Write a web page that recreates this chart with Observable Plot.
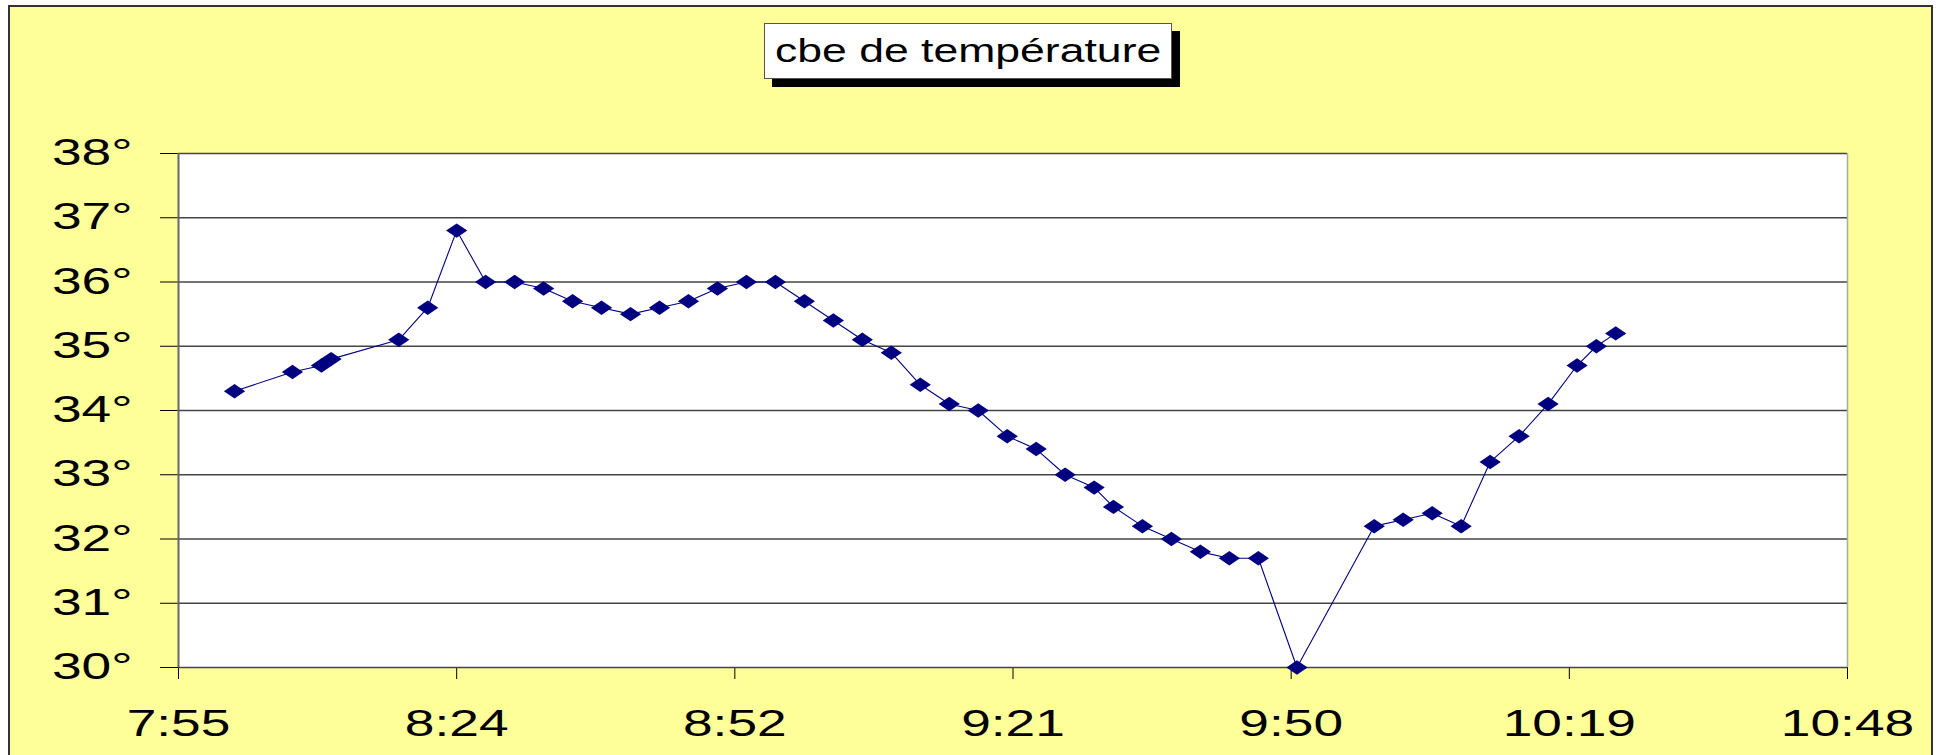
<!DOCTYPE html>
<html>
<head>
<meta charset="utf-8">
<script src="https://cdn.jsdelivr.net/npm/d3@7"></script>
<script src="https://cdn.jsdelivr.net/npm/@observablehq/plot@0.6"></script>
<style>
  html, body { margin: 0; padding: 0; background: white; }
  #wrap { position: relative; width: 1936px; height: 755px; overflow: hidden; background: white; }
  #bg { position: absolute; left: 8px; top: 5px; width: 1921px; height: 800px; background: #FFFF99; border: 2px solid #333; }
  #chart { position: absolute; left: 0; top: 0; }
  #title { position: absolute; left: 764px; top: 23px; width: 406px; height: 54px; background: white;
           border: 1px solid #555; box-shadow: 8px 8px 0 #000; text-align: center;
           font-family: "Liberation Sans", Arial, sans-serif; font-size: 33px; line-height: 54px; color: #000; }
  #title span { display: inline-block; transform: scaleX(1.35); transform-origin: center; }
</style>
</head>
<body>
<div id="wrap">
  <div id="bg"></div>
  <div id="chart"></div>
  <div id="title"><span>cbe de température</span></div>
</div>
<script>
// ---- data ----
const times = ["8:01","8:07","8:10","8:11","8:18","8:21","8:24","8:27","8:30","8:33",
               "8:36","8:39","8:42","8:45","8:48","8:51","8:54","8:57","9:00","9:03",
               "9:06","9:09","9:12","9:15","9:18","9:21","9:24","9:27","9:30","9:32",
               "9:35","9:38","9:41","9:44","9:47","9:51","9:59","10:02","10:05","10:08",
               "10:11","10:14","10:17","10:20","10:22","10:24"];
const temps = [34.3,34.6,34.7,34.8,35.1,35.6,36.8,36.0,36.0,35.9,
               35.7,35.6,35.5,35.6,35.7,35.9,36.0,36.0,35.7,35.4,
               35.1,34.9,34.4,34.1,34.0,33.6,33.4,33.0,32.8,32.5,
               32.2,32.0,31.8,31.7,31.7,30.0,32.2,32.3,32.4,32.2,
               33.2,33.6,34.1,34.7,35.0,35.2];
const yTicks = [30,31,32,33,34,35,36,37,38];
const yTickLabels = ["30°","31°","32°","33°","34°","35°","36°","37°","38°"];
// x tick positions in minutes since midnight (Excel: 0.33 .. 0.45 day, step 0.02)
const xTickValues = [475.2, 504, 532.8, 561.6, 590.4, 619.2, 648];
const xTickLabels = ["7:55","8:24","8:52","9:21","9:50","10:19","10:48"];

const toMin = s => { const [h, m] = s.split(":").map(Number); return h * 60 + m; };
const data = times.map((t, i) => ({t: toMin(t), v: temps[i]}));

// horizontally stretched diamond (the reference picture is stretched)
const wideDiamond = {
  draw(context, size) {
    const r = Math.sqrt(size / Math.PI);
    const h = r * 0.85, w = r * 1.25;
    context.moveTo(0, -h);
    context.lineTo(w, 0);
    context.lineTo(0, h);
    context.lineTo(-w, 0);
    context.closePath();
  }
};

const chart = Plot.plot({
  width: 1936,
  height: 755,
  marginLeft: 178,
  marginRight: 89,
  marginTop: 153,
  marginBottom: 88,
  style: {
    background: "transparent",
    fontFamily: "'Liberation Sans', Arial, sans-serif",
    fontSize: "36px",
    color: "#000",
    overflow: "visible"
  },
  x: {
    domain: [xTickValues[0], xTickValues[xTickValues.length - 1]],
    ticks: xTickValues,
    tickFormat: d => xTickLabels[xTickValues.indexOf(d)],
    tickSize: 12,
    tickPadding: 31,
    label: null
  },
  y: {
    domain: [30, 38],
    ticks: yTicks,
    tickFormat: d => yTickLabels[yTicks.indexOf(d)],
    tickSize: 18,
    tickPadding: 28,
    label: null
  },
  marks: [
    Plot.frame({fill: "white", stroke: "none"}),
    Plot.ruleY(yTicks, {stroke: "#444", strokeWidth: 1.5}),
    Plot.ruleX([xTickValues[0]], {stroke: "#666", strokeWidth: 2}),
    Plot.ruleX([xTickValues[xTickValues.length - 1]], {stroke: "#aaa", strokeWidth: 1.5}),
    Plot.line(data, {x: "t", y: "v", stroke: "#000080", strokeWidth: 1.1}),
    Plot.dot(data, {x: "t", y: "v", symbol: wideDiamond, r: 8.5, fill: "#000080", stroke: "none"})
  ]
});

document.getElementById("chart").appendChild(chart);

// stretch tick labels horizontally like the reference
const svg = chart.tagName.toLowerCase() === "svg" ? chart : chart.querySelector("svg");
svg.querySelectorAll("text").forEach(t => {
  const L = t.getComputedTextLength();
  if (L > 0) {
    t.setAttribute("textLength", (L * 1.48).toFixed(1));
    t.setAttribute("lengthAdjust", "spacingAndGlyphs");
  }
});
</script>
</body>
</html>
